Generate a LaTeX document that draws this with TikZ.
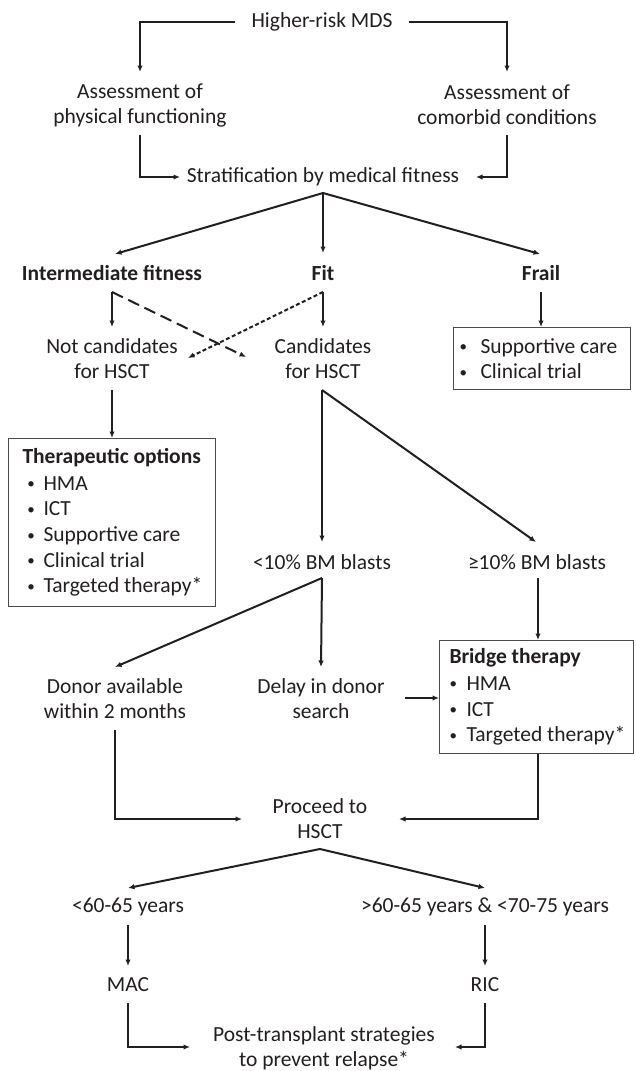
\documentclass[tikz,border=0pt]{standalone}
\usepackage{fontspec}
\setmainfont{Carlito}
\usetikzlibrary{arrows.meta,calc}
\definecolor{ink}{HTML}{231F20}
\definecolor{boxline}{HTML}{4A4A4A}
\newcommand{\bul}[2]{\makebox[#1][l]{\raisebox{1.5pt}{\fontsize{15}{15}\selectfont\textbullet}}#2}
\begin{document}
\begin{tikzpicture}[x=1pt,y=-1pt,
  txt/.style={inner sep=0pt, align=center, font=\fontsize{21.5}{25}\selectfont, text=ink},
  bold/.style={txt, font=\fontsize{21.5}{25}\selectfont\bfseries},
  listbox/.style={draw=boxline, line width=1pt, inner ysep=0pt, align=flush left,
    font=\fontsize{21.5}{25.6}\selectfont, text=ink, anchor=north west},
  ln/.style={line width=2pt, draw=ink},
  arr/.style={ln, -{Latex[length=6.5pt,width=5.5pt]}},
  dashline/.style={arr, dash pattern=on 12pt off 6pt},
  dotline/.style={arr, dash pattern=on 4pt off 2.5pt}
]
\path[use as bounding box, fill=white] (0,0) rectangle (635,1071);

% nodes
\node[txt] (hr) at (322,22) {Higher-risk MDS};
\node[txt] (a1) at (140,105) {Assessment of\\physical functioning};
\node[txt] (a2) at (507,105) {Assessment of\\comorbid conditions};
\node[txt] (st) at (323,177) {Stratification by medical fitness};
\node[bold] (inter) at (112,273) {Intermediate fitness};
\node[bold] (fit) at (323,273) {Fit};
\node[bold] (frail) at (541,273) {Frail};
\node[txt] (notc) at (112,359) {Not candidates\\for HSCT};
\node[txt] (cand) at (323,359) {Candidates\\for HSCT};
\node[listbox, text width=165pt, inner xsep=6pt, minimum height=62pt] (frailbox) at (453,327)
  {\mbox{\bul{21pt}{Supportive care}}\\\mbox{\bul{21pt}{Clinical trial}}};
\node[listbox, text width=179pt, inner xsep=14pt, minimum height=168pt] (thbox) at (8,438)
  {\mbox{\textbf{Therapeutic options}}\\[1pt]
   \mbox{\hspace*{5pt}\bul{16pt}{HMA}}\\
   \mbox{\hspace*{5pt}\bul{16pt}{ICT}}\\
   \mbox{\hspace*{5pt}\bul{16pt}{Supportive care}}\\
   \mbox{\hspace*{5pt}\bul{16pt}{Clinical trial}}\\
   \mbox{\hspace*{5pt}\bul{16pt}{Targeted therapy*}}};
\node[txt] (lt10) at (322,562) {<10\% BM blasts};
\node[txt] (ge10) at (537,562) {≥10\% BM blasts};
\node[txt] (donor) at (115,699) {Donor available\\within 2 months};
\node[txt] (delay) at (321,699) {Delay in donor\\search};
\node[listbox, text width=174pt, inner xsep=10pt, minimum height=113pt] (bridge) at (439,640)
  {\mbox{\textbf{Bridge therapy}}\\[1pt]
   \mbox{\bul{17pt}{HMA}}\\
   \mbox{\bul{17pt}{ICT}}\\
   \mbox{\bul{17pt}{Targeted therapy*}}};
\node[txt] (proc) at (320,819) {Proceed to\\HSCT};
\node[txt] (lt60) at (128,907) {<60-65 years};
\node[txt] (gt60) at (485,907) {>60-65 years \& <70-75 years};
\node[txt] (mac) at (128,985) {MAC};
\node[txt] (ric) at (485,985) {RIC};
\node[txt] (post) at (324,1048) {Post-transplant strategies\\to prevent relapse*};

% connectors
\draw[arr] ($(hr)+(-87,0)$) -| ($(a1)+(0,-33)$);
\draw[arr] ($(hr)+(87,0)$) -| ($(a2)+(0,-33)$);
\draw[arr] ($(a1)+(0,30)$) |- ($(st)+(-143,0)$);
\draw[arr] ($(a2)+(0,30)$) |- ($(st)+(153,0)$);

\coordinate (sf) at ($(st)+(0,16)$);
\draw[arr] (sf) -- ($(inter)+(3,-19)$);
\draw[arr] (sf) -- ($(fit)+(0,-20)$);
\draw[arr] (sf) -- ($(frail)+(-1,-19)$);

\draw[arr] ($(inter)+(0,19)$) -- ($(notc)+(0,-32)$);
\draw[dashline] ($(inter)+(0,19)$) -- ($(cand)+(-77,-2)$);
\draw[arr] ($(fit)+(0,19)$) -- ($(cand)+(0,-32)$);
\draw[dotline] ($(fit)+(0,19)$) -- ($(notc)+(76,-1)$);
\draw[arr] ($(frail)+(0,19)$) -- (frailbox.north -| frail);

\draw[arr] ($(notc)+(0,31)$) -- (thbox.north -| notc);
\coordinate (cb) at ($(cand)+(-1,31)$);
\draw[arr] (cb) -- ($(lt10)+(0,-20)$);
\draw[arr] (cb) -- ($(ge10)+(-1,-20)$);

\coordinate (lb) at ($(lt10)+(0,16)$);
\draw[arr] (lb) -- ($(donor)+(0,-32)$);
\draw[arr] (lb) -- ($(delay)+(0,-32)$);
\coordinate (g1) at ($(ge10)+(1,16)$);
\draw[arr] (g1) -- (g1 |- bridge.north);
\coordinate (d1) at ($(delay)+(84,-1)$);
\draw[arr] (d1) -- (d1 -| bridge.west);

\draw[arr] ($(donor)+(0,31)$) |- ($(proc)+(-78,0)$);
\draw[arr] (bridge.south -| g1) |- ($(proc)+(79,0)$);

\coordinate (pb) at ($(proc)+(0,30)$);
\draw[arr] (pb) -- ($(lt60)+(0,-19)$);
\draw[arr] (pb) -- ($(gt60)+(0,-19)$);
\draw[arr] ($(lt60)+(0,18)$) -- ($(mac)+(0,-19)$);
\draw[arr] ($(gt60)+(0,18)$) -- ($(ric)+(0,-19)$);
\draw[arr] ($(mac)+(0,18)$) |- ($(post)+(-134,-1)$);
\draw[arr] ($(ric)+(0,18)$) |- ($(post)+(131,-1)$);
\end{tikzpicture}
\end{document}
